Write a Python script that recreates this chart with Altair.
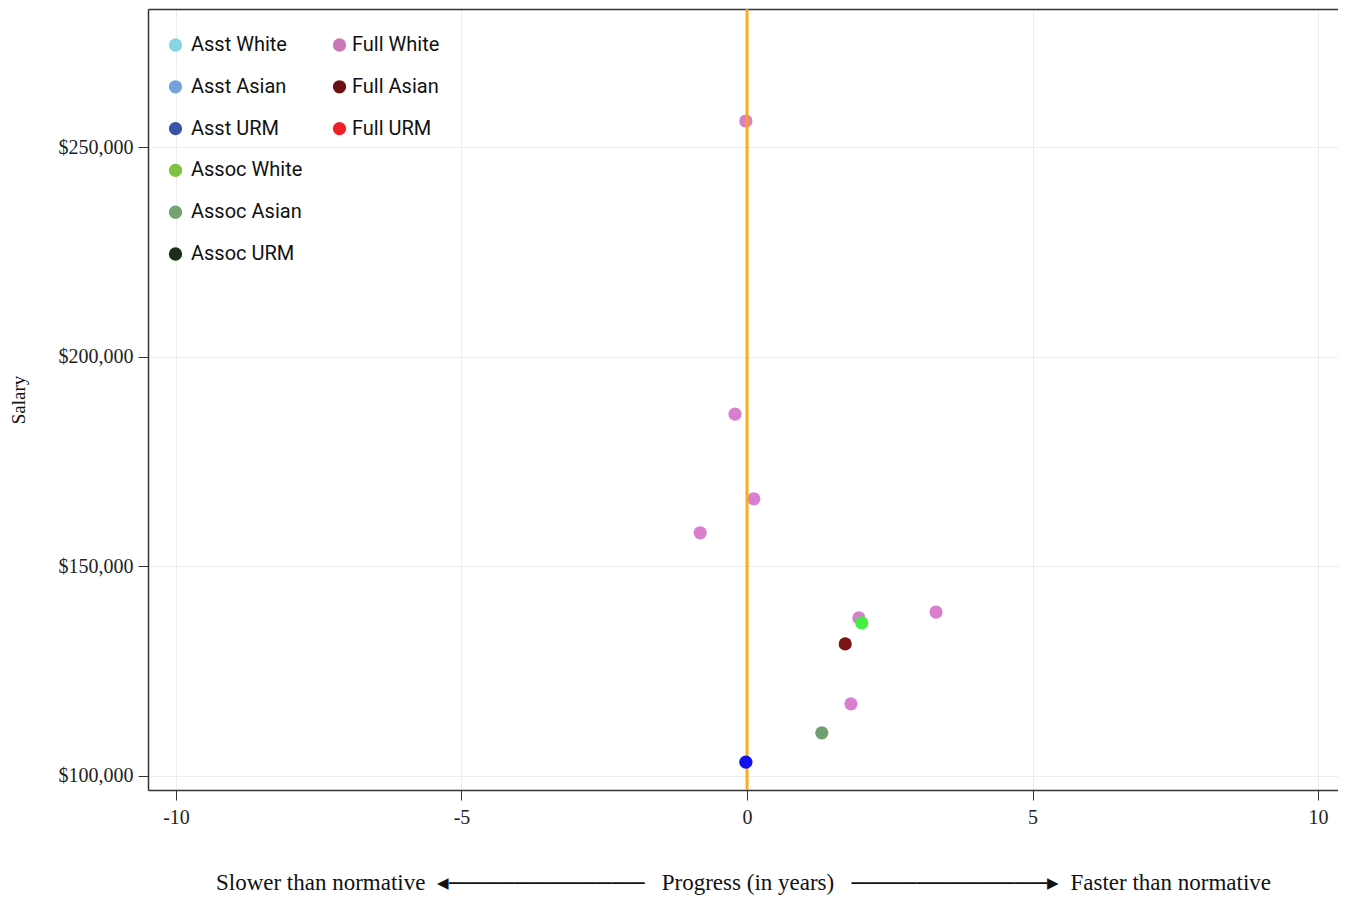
import altair as alt
import pandas as pd

# ---- data ----
groups = ["Full White", "Full White", "Full White", "Full White", "Full White",
          "Full White", "Full White", "Assoc White", "Full Asian", "Assoc Asian", "Asst URM"]
progress = [-0.02, -0.21, 0.12, -0.82, 1.96, 3.31, 1.82, 2.01, 1.72, 1.31, -0.02]
salary = [256200, 186300, 166100, 158000, 137700, 139100, 117200, 136500, 131500, 110300, 103300]

point_colors = {
    "Full White": "#da7fcf",
    "Assoc White": "#44ee44",
    "Full Asian": "#7a1515",
    "Assoc Asian": "#6f9f70",
    "Asst URM": "#1111ee",
}

legend_left = ["Asst White", "Asst Asian", "Asst URM", "Assoc White", "Assoc Asian", "Assoc URM"]
legend_left_colors = ["#87d4e4", "#74a2db", "#3a53a6", "#7dc242", "#73a373", "#1b2f1a"]
legend_right = ["Full White", "Full Asian", "Full URM"]
legend_right_colors = ["#cc77b6", "#6b1111", "#ee2024"]

x_ticks = [-10, -5, 0, 5, 10]
y_ticks = [100000, 150000, 200000, 250000]
normative = [0]

df = pd.DataFrame({"group": groups, "progress": progress, "salary": salary})
df["pt_color"] = df["group"].map(point_colors)
df["under"] = df["group"] == "Full White"

SERIF = "Liberation Serif"
NB = "\u00a0"
x_title = ("Slower than normative" + NB * 2 + "\u25c2" + "\u2500" * 12 + NB * 3
           + "Progress (in years)" + NB * 3 + "\u2500" * 12 + "\u25b8" + NB * 2
           + "Faster than normative")

x_scale = alt.Scale(domain=[-10.49, 10.35], nice=False, zero=False)
y_scale = alt.Scale(domain=[96660, 282910], nice=False, zero=False)

x_axis = alt.Axis(values=x_ticks, labelExpr="'' + datum.value", tickSize=10,
                  labelPadding=7, title=x_title, titlePadding=44, titleFont=SERIF,
                  titleFontSize=23, titleFontWeight="normal", titleColor="#111",
                  labelFont=SERIF, labelFontSize=20, labelColor="#222",
                  grid=True, gridColor="#ececec", domainColor="#333", domainWidth=1.5,
                  tickColor="#333", labelFlush=False)
y_axis = alt.Axis(values=y_ticks, format="$,.0f", tickSize=10, labelPadding=5,
                  title="Salary", titleFont=SERIF, titleFontSize=19, titleFontWeight="normal",
                  titleColor="#111", titlePadding=30, labelFont=SERIF, labelFontSize=20,
                  labelColor="#222", grid=True, gridColor="#ececec", domainColor="#333",
                  domainWidth=1.5, tickColor="#333")

base = alt.Chart(df)

pts_under = base.transform_filter("datum.under").mark_circle(size=175, opacity=1).encode(
    x=alt.X("progress:Q", scale=x_scale, axis=x_axis),
    y=alt.Y("salary:Q", scale=y_scale, axis=y_axis),
    color=alt.Color("pt_color:N", scale=None),
)
pts_over = base.transform_filter("!datum.under").mark_circle(size=175, opacity=1).encode(
    x=alt.X("progress:Q", scale=x_scale, axis=None),
    y=alt.Y("salary:Q", scale=y_scale, axis=y_axis),
    color=alt.Color("pt_color:N", scale=None),
)

zero_rule = alt.Chart(pd.DataFrame({"zero": normative})).mark_rule(
    color="#ffa500", strokeWidth=3, opacity=0.9).encode(
    x=alt.X("zero:Q", scale=x_scale,
            axis=alt.Axis(orient="top", labels=False, ticks=False, title=None, grid=False,
                          domainColor="#333", domainWidth=1.5)),
)


def legend_layer(cats, cols, lx, off):
    return alt.Chart(pd.DataFrame({"cat": cats})).mark_point(
        filled=True, opacity=0, size=10).encode(
        color=alt.Color("cat:N", sort=cats,
                        scale=alt.Scale(domain=cats, range=cols),
                        legend=alt.Legend(title=None, orient="none", legendX=lx, legendY=26,
                                          symbolType="circle", symbolSize=177,
                                          symbolOpacity=1, symbolStrokeWidth=0,
                                          labelFont="Roboto", labelFontSize=20,
                                          labelColor="#111", labelOffset=off,
                                          rowPadding=21.8, padding=0, direction="vertical")),
    )


leg_a = legend_layer(legend_left, legend_left_colors, 17.5, 5.5)
leg_b = legend_layer(legend_right, legend_right_colors, 181.5, 2.5)

chart = alt.layer(pts_under, zero_rule, pts_over, leg_a, leg_b).resolve_scale(
    color="independent").resolve_axis(x="independent").properties(
    width=1190, height=781,
    autosize=alt.AutoSizeParams(type="none"),
    padding={"left": 140, "top": 1, "right": 0, "bottom": 110},
).configure_view(stroke="#e6e6e6").configure(background="white")

chart.save("out.html", embed_options={"renderer": "svg", "actions": False})
